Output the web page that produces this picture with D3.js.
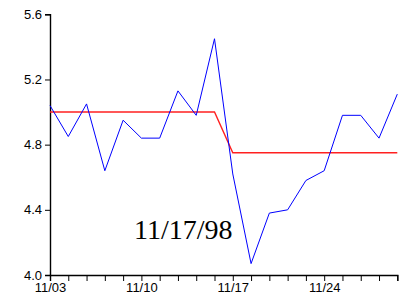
<!DOCTYPE html>
<html>
<head>
<meta charset="utf-8">
<script src="https://cdn.jsdelivr.net/npm/d3@7"></script>
<style>
  html, body { margin: 0; padding: 0; background: #fff; }
  svg { display: block; }
</style>
</head>
<body>
<svg id="chart" width="406" height="305"></svg>
<script>
// trading days, 11/03/98 .. 12/01/98
const dates = ['11/03', '11/04', '11/05', '11/06', '11/09', '11/10', '11/11', '11/12', '11/13', '11/16',
  '11/17', '11/18', '11/19', '11/20', '11/23', '11/24', '11/25', '11/27', '11/30', '12/01'];
const rate = [5.04, 4.85, 5.05, 4.64, 4.95, 4.84, 4.84, 5.13, 4.98, 5.45,
  4.62, 4.07, 4.38, 4.40, 4.58, 4.64, 4.98, 4.98, 4.84, 5.11];
const target = [5.00, 5.00, 5.00, 5.00, 5.00, 5.00, 5.00, 5.00, 5.00, 5.00,
  4.75, 4.75, 4.75, 4.75, 4.75, 4.75, 4.75, 4.75, 4.75, 4.75];
const yTicks = [4.0, 4.4, 4.8, 5.2, 5.6];
const xLabels = ['11/03', '11/10', '11/17', '11/24'];
const annotation = '11/17/98';

(() => {
  const svg = d3.select('#chart');
  const margin = { left: 50, right: 8.7, top: 14.3, bottom: 30 };
  const width = 406, height = 305;

  const x = d3.scaleLinear().domain([0, dates.length - 1]).range([margin.left, width - margin.right]);
  const y = d3.scaleLinear().domain([4.0, 5.6]).range([height - margin.bottom, margin.top]);

  const yAxis = d3.axisLeft(y)
    .tickValues(yTicks)
    .tickFormat(d3.format('.1f'))
    .tickSize(5)
    .tickPadding(3);

  const xAxis = d3.axisBottom(x)
    .tickValues(d3.range(dates.length))
    .tickFormat((i) => (xLabels.includes(dates[i]) ? dates[i] : ''))
    .tickSize(6)
    .tickPadding(2);

  const gy = svg.append('g')
    .attr('transform', `translate(${margin.left},0)`)
    .call(yAxis);
  const gx = svg.append('g')
    .attr('transform', `translate(0,${height - margin.bottom})`)
    .call(xAxis);

  [gx, gy].forEach((g) => {
    g.select('.domain').attr('stroke', '#000').attr('stroke-width', 1.4);
    g.selectAll('.tick line').attr('stroke', '#000');
    g.selectAll('text')
      .attr('fill', '#000')
      .style('font-family', '"Liberation Sans", Arial, sans-serif')
      .style('font-size', '13px');
  });

  const line = (vals) => d3.line()
    .x((d, i) => x(i))
    .y((d) => y(d))(vals);

  svg.append('path')
    .attr('d', line(target))
    .attr('fill', 'none')
    .attr('stroke', '#ff2020')
    .attr('stroke-width', 1.4);

  svg.append('path')
    .attr('d', line(rate))
    .attr('fill', 'none')
    .attr('stroke', '#0000ff')
    .attr('stroke-width', 1);

  svg.append('text')
    .attr('x', x(4.6))
    .attr('y', y(4.22))
    .style('font-family', '"Liberation Serif", "Times New Roman", serif')
    .style('font-size', '28px')
    .attr('fill', '#000')
    .text(annotation);
})();
</script>
</body>
</html>
